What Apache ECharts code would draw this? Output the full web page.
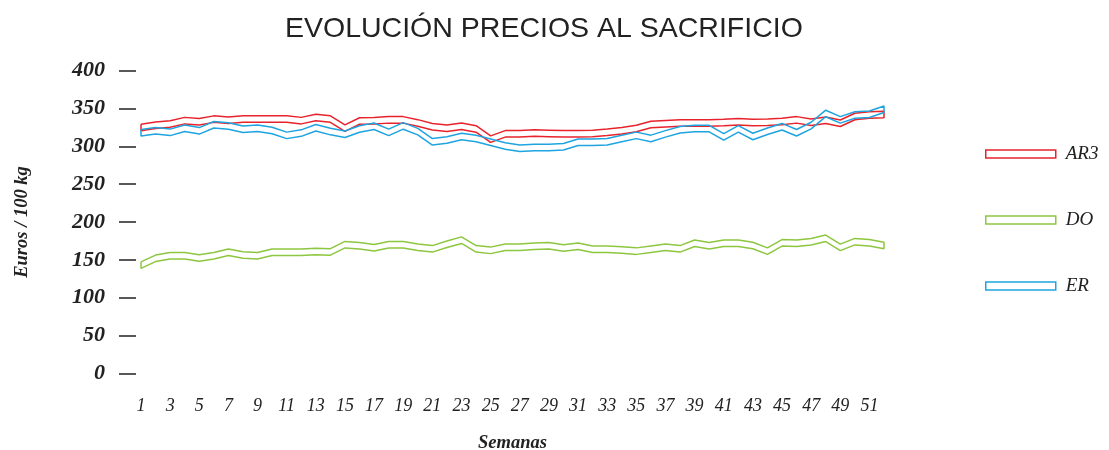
<!DOCTYPE html>
<html>
<head>
<meta charset="utf-8">
<script src="https://cdn.jsdelivr.net/npm/echarts@6/dist/echarts.min.js"></script>
<style>
html, body { margin: 0; padding: 0; background: #fff; }
#myChart { width: 1109px; height: 450px; }
</style>
</head>
<body>
<div id="myChart"></div>
<script>
// semanas 1..52
const weeks = []
for (let i = 1; i <= 52; i++) weeks.push(String(i))

const ar3 = [325, 328, 329.5, 334, 332.5, 336, 334.5, 336, 336, 336, 336, 334, 338, 336, 324, 333.5, 334, 335, 335, 331,
  326, 324, 326.5, 323, 309.5, 316.5, 316.5, 317.5, 317, 316.5, 316.5, 317, 318.5, 320.5, 323.5, 329, 330, 331, 331, 331,
  331.5, 332.5, 331.5, 332, 333, 335, 332, 334.5, 330.5, 339.5, 341.5, 342]
const dO = [143, 152, 155.5, 155.5, 152.5, 155.5, 160, 156.5, 155.5, 160, 160, 160, 161, 160.5, 170, 168.5, 166, 170, 170, 166.5,
  164.5, 170.5, 176, 164.5, 162.5, 166.5, 166.5, 168, 168.5, 165.5, 168, 164, 164, 163, 161.5, 164, 166.5, 164.5, 172, 168.5,
  172, 172, 169, 161.5, 172.5, 172, 174, 178.5, 166.5, 174, 172.5, 169]
const er = [318, 320.5, 318.5, 324, 320.5, 328.5, 327, 322.5, 324, 321, 314.5, 317.5, 324.5, 319.5, 316, 323, 326.5, 318.5, 327, 319.5,
  306, 308.5, 313, 310.5, 305.5, 300.5, 297.5, 298.5, 298.5, 299.5, 305.5, 305.5, 306, 310.5, 314.5, 310.5, 316.5, 322, 323.5, 323.5,
  312.5, 323, 313, 320, 326, 318, 327.5, 343.5, 335, 341.5, 342.5, 349]

const seriesNames = ['AR3', 'DO', 'ER']
const seriesValues = [ar3, dO, er]
const colors = ['#e8232c', '#8dc63f', '#1ea4e0']

// contorno hueco: borde superior de ida, borde inferior de vuelta
function ribbon(vals, d) {
  let out = []
  for (let i = 0; i < vals.length; i++) out.push([i, vals[i] + d])
  for (let i = vals.length - 1; i >= 0; i--) out.push([i, vals[i] - d])
  out.push([0, vals[0] + d])
  return out
}

let myChart = echarts.init(document.getElementById('myChart'))
myChart.setOption({
  animation: false,
  title: {
    text: 'EVOLUCIÓN PRECIOS AL SACRIFICIO',
    left: 280,
    top: 10,
    textStyle: { fontFamily: 'Liberation Sans', fontSize: 28.5, fontWeight: 'normal', color: '#222' }
  },
  legend: {
    orient: 'vertical',
    left: 980,
    top: 139,
    itemWidth: 70,
    itemHeight: 8,
    itemGap: 46,
    icon: 'rect',
    textStyle: { fontFamily: 'Liberation Serif', fontStyle: 'italic', fontSize: 19, color: '#222', lineHeight: 20, padding: [0, 0, 0, 5] },
    data: seriesNames.map((n, i) => ({
      name: n,
      itemStyle: { color: '#fff', borderColor: colors[i], borderWidth: 1.5 }
    }))
  },
  grid: { left: 141, right: 225, top: 70.7, bottom: 76.7, outerBoundsMode: 'none' },
  xAxis: {
    type: 'category',
    data: weeks,
    boundaryGap: false,
    axisLine: { show: false },
    axisTick: { show: false },
    axisLabel: {
      interval: 1,
      margin: 24,
      fontFamily: 'Liberation Serif',
      fontStyle: 'italic',
      fontSize: 18,
      color: '#222'
    },
    name: 'Semanas',
    nameLocation: 'middle',
    nameGap: 60,
    nameTextStyle: { fontFamily: 'Liberation Serif', fontStyle: 'italic', fontWeight: 'bold', fontSize: 18.5, color: '#222' }
  },
  yAxis: {
    type: 'value',
    min: 0,
    max: 400,
    interval: 50,
    offset: 5,
    splitLine: { show: false },
    axisLine: { show: false },
    axisTick: { show: true, length: 17, lineStyle: { color: '#222', width: 1.5 } },
    axisLabel: {
      margin: 31,
      fontFamily: 'Liberation Serif',
      fontStyle: 'italic',
      fontWeight: 'bold',
      fontSize: 22,
      color: '#222'
    },
    name: 'Euros / 100 kg',
    nameLocation: 'middle',
    nameRotate: 90,
    nameGap: 104,
    nameTextStyle: { fontFamily: 'Liberation Serif', fontStyle: 'italic', fontWeight: 'bold', fontSize: 18.5, color: '#222' }
  },
  series: seriesNames.map((n, i) => ({
    name: n,
    type: 'line',
    data: ribbon(seriesValues[i], 4.3),
    symbol: 'none',
    itemStyle: { color: colors[i] },
    lineStyle: { color: colors[i], width: 1.5 }
  }))
})
</script>
</body>
</html>
